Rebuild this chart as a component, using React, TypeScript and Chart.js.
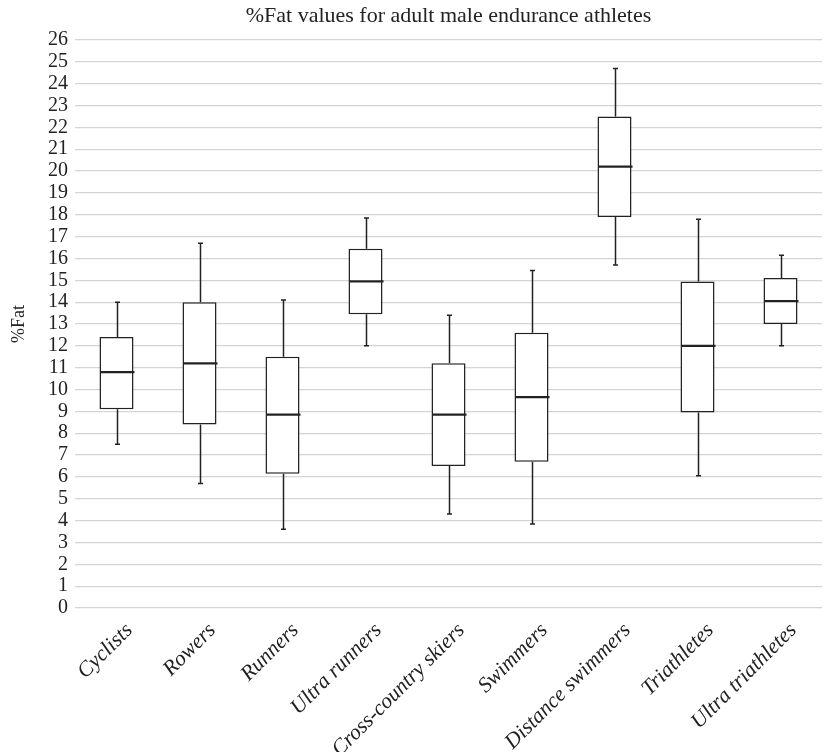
import React, { useEffect, useRef } from "react";
import { Chart, registerables } from "chart.js";

Chart.register(...registerables);

const categories = [
  "Cyclists",
  "Rowers",
  "Runners",
  "Ultra runners",
  "Cross-country skiers",
  "Swimmers",
  "Distance swimmers",
  "Triathletes",
  "Ultra triathletes",
];
const minValues = [7.5, 5.7, 3.6, 12.0, 4.3, 3.85, 15.7, 6.05, 12.0];
const q1Values = [9.1, 8.4, 6.15, 13.45, 6.5, 6.7, 17.9, 8.95, 13.0];
const medianValues = [10.8, 11.2, 8.85, 14.95, 8.85, 9.65, 20.2, 12.0, 14.05];
const q3Values = [12.4, 14.0, 11.5, 16.45, 11.2, 12.6, 22.5, 14.95, 15.1];
const maxValues = [14.0, 16.7, 14.1, 17.85, 13.4, 15.45, 24.7, 17.8, 16.15];

const FONT = "'Liberation Serif', 'DejaVu Serif', serif";
const INK = "#222222";

const boxPlugin = {
  id: "boxWhiskers",
  afterDatasetsDraw(chart: any) {
    const ctx = chart.ctx;
    const xs = chart.scales.x;
    const ys = chart.scales.y;
    const meta = chart.getDatasetMeta(0);
    ctx.save();
    ctx.strokeStyle = INK;
    categories.forEach((_, i) => {
      const x = Math.round(xs.getPixelForValue(i)) + 0.5;
      const bar = meta.data[i];
      const half = bar ? bar.width / 2 : 17;
      const yMin = ys.getPixelForValue(minValues[i]);
      const yQ1 = ys.getPixelForValue(q1Values[i]);
      const yQ3 = ys.getPixelForValue(q3Values[i]);
      const yMax = ys.getPixelForValue(maxValues[i]);
      const yMed = ys.getPixelForValue(medianValues[i]);
      ctx.lineWidth = 1.5;
      ctx.beginPath();
      ctx.moveTo(x, yQ3);
      ctx.lineTo(x, yMax);
      ctx.moveTo(x, yQ1);
      ctx.lineTo(x, yMin);
      ctx.moveTo(x - 2.5, yMax);
      ctx.lineTo(x + 2.5, yMax);
      ctx.moveTo(x - 2.5, yMin);
      ctx.lineTo(x + 2.5, yMin);
      ctx.stroke();
      ctx.lineWidth = 2.2;
      ctx.beginPath();
      ctx.moveTo(x - half, yMed);
      ctx.lineTo(x + half, yMed);
      ctx.stroke();
    });
    ctx.restore();
  },
};

export default function App() {
  const ref = useRef<HTMLCanvasElement | null>(null);
  useEffect(() => {
    document.body.style.margin = "0";
    const canvas = ref.current;
    if (!canvas) return;
    const chart = new Chart(canvas, {
      type: "bar",
      data: {
        labels: categories,
        datasets: [
          {
            data: categories.map((_, i) => [q1Values[i], q3Values[i]] as [number, number]),
            backgroundColor: "#ffffff",
            borderColor: INK,
            borderWidth: 1.5,
            borderSkipped: false,
            barPercentage: 0.41,
            categoryPercentage: 1,
          },
        ],
      },
      options: {
        animation: false,
        responsive: false,
        maintainAspectRatio: false,
        layout: { padding: { left: 0, right: 2, top: 0, bottom: 0 } },
        plugins: {
          legend: { display: false },
          tooltip: { enabled: false },
          title: {
            display: true,
            fullSize: false,
            text: "%Fat values for adult male endurance athletes",
            color: INK,
            font: { family: FONT, size: 22, weight: "normal" },
            padding: { top: 3, bottom: 10.6 },
          },
        },
        scales: {
          x: {
            grid: { display: false },
            border: { display: false },
            ticks: {
              color: INK,
              maxRotation: 45,
              minRotation: 45,
              autoSkip: false,
              labelOffset: 13,
              padding: 2,
              font: { family: FONT, size: 21.5, style: "italic" },
            },
            afterFit(scale: any) {
              scale.height = 144;
            },
          },
          y: {
            min: 0,
            max: 26,
            border: { display: false },
            grid: { color: "#d4d4d4", lineWidth: 1.3, drawTicks: false },
            ticks: {
              stepSize: 1,
              autoSkip: false,
              color: INK,
              padding: 7,
              font: { family: FONT, size: 20 },
            },
            title: {
              display: true,
              text: "%Fat",
              color: INK,
              font: { family: FONT, size: 18 },
              padding: { top: 8, bottom: 4 },
            },
            afterFit(scale: any) {
              scale.width = 75;
            },
          },
        },
      },
      plugins: [boxPlugin],
    });
    return () => chart.destroy();
  }, []);
  return (
    <div style={{ width: 824, height: 752 }}>
      <canvas ref={ref} width={824} height={752} style={{ display: "block" }} />
    </div>
  );
}
